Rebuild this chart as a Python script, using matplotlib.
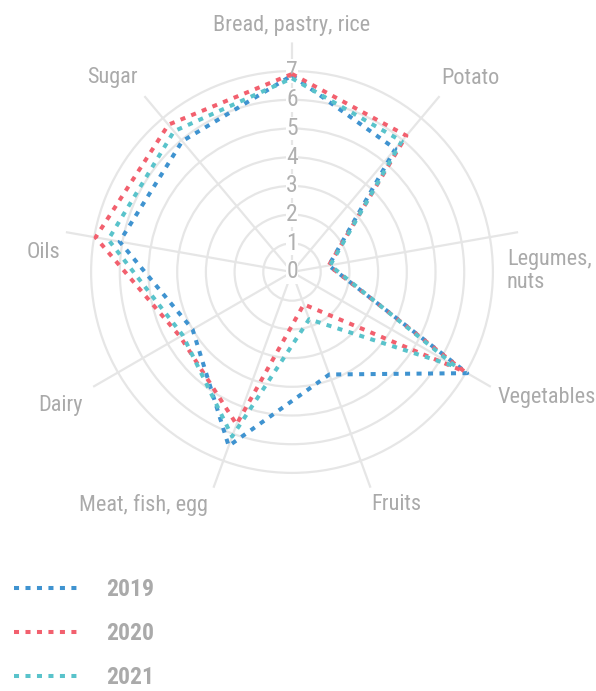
import numpy as np
import matplotlib
matplotlib.use("Agg")
import matplotlib.pyplot as plt
from matplotlib import font_manager
from matplotlib.lines import Line2D

# pick a narrow font if one is around
names = {f.name for f in font_manager.fontManager.ttflist}
font = "DejaVu Sans"
for cand in ["Roboto Condensed", "Open Sans Condensed", "Liberation Sans Narrow", "Open Sans"]:
    if cand in names:
        font = cand
        break
plt.rcParams["font.family"] = [font, "DejaVu Sans"]

# data
categories = ["Bread, pastry, rice", "Potato", "Legumes,\nnuts", "Vegetables", "Fruits",
              "Meat, fish, egg", "Dairy", "Oils", "Sugar"]
years = ["2019", "2020", "2021"]
values_2019 = [6.85, 5.6, 1.3, 7.05, 3.8, 6.45, 4.0, 6.1, 5.95]
values_2020 = [6.9, 6.2, 1.3, 6.95, 1.2, 5.65, 4.5, 6.95, 6.7]
values_2021 = [6.75, 5.95, 1.35, 6.6, 1.75, 6.1, 4.4, 6.5, 6.4]
radial_ticks = [0, 1, 2, 3, 4, 5, 6, 7]
colors = ["#3f93d0", "#f2606e", "#59c3cb"]

W, H = 596, 691
fig = plt.figure(figsize=(W / 100, H / 100), dpi=100)

# polar axes placed so centre sits at (292, 272) px, r=8 -> 229.6 px
cx, cy, R = 292, 272, 229.6
ax = fig.add_axes([(cx - R) / W, (H - cy - R) / H, 2 * R / W, 2 * R / H], projection="polar")
ax.set_theta_zero_location("N")
ax.set_theta_direction(-1)
ax.set_ylim(0, 8)

n = len(categories)
angles = np.arange(n) * 2 * np.pi / n

grid_col = "#e6e6e6"
ax.set_xticks(angles)
ax.set_xticklabels([])
ax.set_yticks(radial_ticks[1:])
ax.set_yticklabels([])
ax.grid(True, color=grid_col, linewidth=1.6)
ax.spines["polar"].set_visible(False)
ax.tick_params(length=0)

# radial tick labels along the top spoke
for t in radial_ticks:
    ax.text(0, t, str(t), ha="center", va="center", fontsize=17, color="#b0b0b0",
            zorder=2, bbox=dict(boxstyle="square,pad=0.02", fc="white", ec="none"))

for vals, col, lab in zip([values_2019, values_2020, values_2021], colors, years):
    th = np.append(angles, angles[0])
    rv = np.append(vals, vals[0])
    ax.plot(th, rv, color=col, linewidth=2.9, linestyle=(0, (1.25, 1.6)),
            label=lab, zorder=4, clip_on=False)

# category labels, placed like the original
lab_pos = [
    (292, 25, "center"), (441, 78, "left"), (507, 271, "left"), (498, 398, "left"),
    (396, 505, "center"), (143, 505, "center"), (83, 405, "right"), (60, 252, "right"),
    (138, 78, "right"),
]
for (px, py, ha), txt in zip(lab_pos, categories):
    fig.text(px / W, 1 - py / H, txt, ha=ha, va="center", fontsize=16, color="#aaaaaa",
             linespacing=1.15)

handles = [Line2D([0], [0], color=c, linewidth=2.9, linestyle=(0, (1.25, 1.6))) for c in colors]
fig.legend(handles, years, loc="upper left", bbox_to_anchor=(14 / W, 1 - 578 / H),
           frameon=False, handlelength=2.7, handletextpad=1.2, borderpad=0, borderaxespad=0,
           labelspacing=0.9, labelcolor="#aaaaaa", prop={"weight": "semibold", "size": 17})

fig.savefig("out.png", dpi=100)
